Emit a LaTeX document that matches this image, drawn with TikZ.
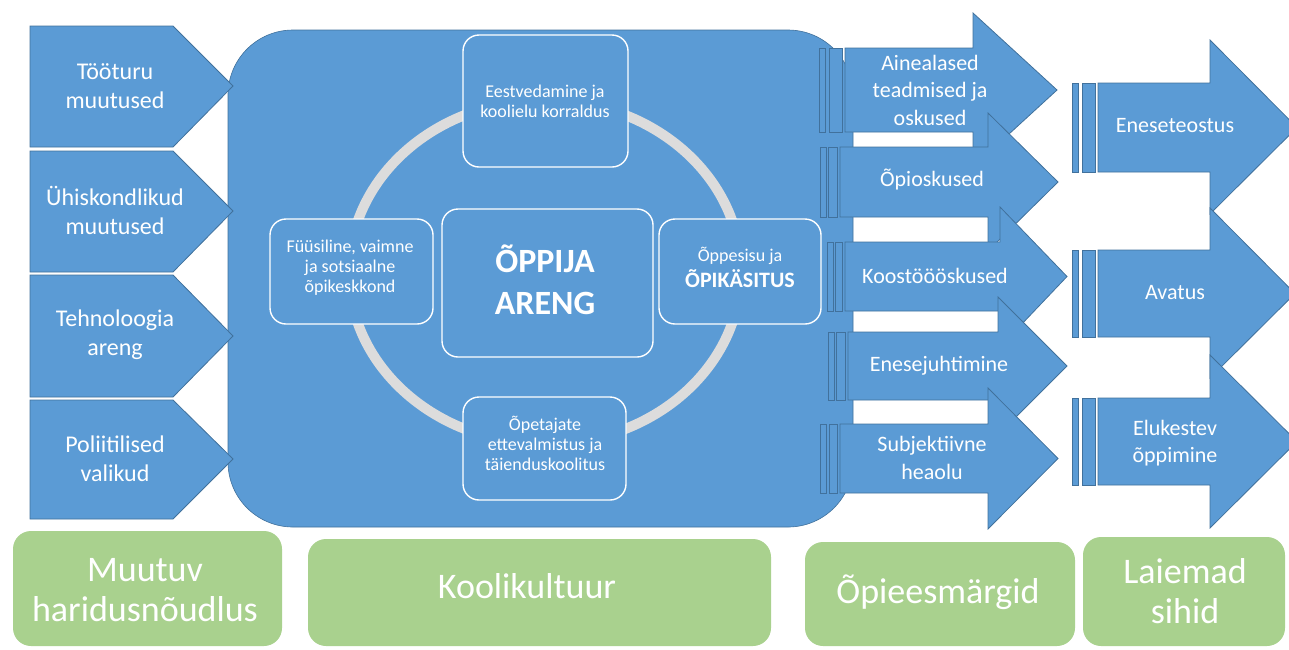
\documentclass[tikz,border=0pt]{standalone}
\usepackage{fontspec}
\setmainfont{Carlito}
\definecolor{blu}{HTML}{5B9BD5}
\definecolor{bluedge}{HTML}{41719C}
\definecolor{grn}{HTML}{A9D18E}
\definecolor{ringgray}{HTML}{DCDCDC}
% #1 stripe1 left, #2 stripe2 left, #3 body left, #4 top, #5 bottom,
% #6 head base x, #7 head top, #8 tip x, #9 head bottom
\newcommand{\strarrow}[9]{%
  \draw[blueshape] (#1,#4) rectangle (#1+6,#5);
  \draw[blueshape] (#2,#4) rectangle (#3-3,#5);
  \draw[blueshape] (#3,#4) -- (#6,#4) -- (#6,#7) -- (#8,{(#4+#5)/2})
     -- (#6,#9) -- (#6,#5) -- (#3,#5) -- cycle;
}
\begin{document}
\begin{tikzpicture}[x=1pt,y=-1pt,
  blueshape/.style={fill=blu, draw=bluedge, line width=0.8pt, line join=miter},
  mainbox/.style={fill=blu, draw=bluedge, line width=0.6pt, rounded corners=65pt, inner sep=0pt},
  ibox/.style={fill=blu, draw=white, line width=1.4pt, rounded corners=16pt, inner sep=0pt},
  gbox/.style={fill=grn, rounded corners=18pt, inner sep=0pt},
  wtext/.style={text=white, align=center, inner sep=0pt},
  lefttxt/.style={wtext, font=\fontsize{24}{29}\selectfont},
  righttxt/.style={wtext, font=\fontsize{22}{27.5}\selectfont},
  smalltxt/.style={wtext, font=\fontsize{18}{20}\selectfont},
  greentxt/.style={wtext, font=\fontsize{36}{40}\selectfont},
  bigtxt/.style={wtext, font=\fontsize{34}{42}\selectfont\bfseries},
]
\useasboundingbox (0,0) rectangle (1289,649);
\clip (0,0) rectangle (1289,649);

% main school-culture box
\node[mainbox, minimum width=625pt, minimum height=497pt] (kool) at (540.5,278.5) {};

% ring
\draw[ringgray, line width=10pt] (545,272) ellipse [x radius=196pt, y radius=172pt];

% inner boxes
\node[ibox, minimum width=165pt, minimum height=132pt] (lead) at (545.5,101) {};
\node[ibox, minimum width=163pt, minimum height=105pt] (env) at (351.5,271.5) {};
\node[ibox, minimum width=211pt, minimum height=148pt] (center) at (547.5,283) {};
\node[ibox, minimum width=162pt, minimum height=105pt] (content) at (740,271.5) {};
\node[ibox, minimum width=163pt, minimum height=103pt] (teach) at (544.5,448.5) {};

\node[smalltxt] (lead-t) at (545,101) {Eestvedamine ja\\koolielu korraldus};
\node[smalltxt] (env-t) at (350,268) {Füüsiline, vaimne\\ja sotsiaalne\\õpikeskkond};
\node[bigtxt] (center-t) at (545,280) {ÕPPIJA\\AREN\kern0ptG};
\node[wtext, font=\fontsize{22}{26}\selectfont] (content-t) at (740,267)
  {{\fontsize{18}{20}\selectfont Õppesisu ja}\\\bfseries ÕPIKÄSITUS};
\node[smalltxt] (teach-t) at (545,443) {Õpetajate\\ettevalmistus ja\\täienduskoolitus};

% left arrows
\draw[blueshape] (30,26) -- (173,26) -- (233,86) -- (173,147) -- (30,147) -- cycle;
\draw[blueshape] (30,151) -- (173,151) -- (233,211) -- (173,272) -- (30,272) -- cycle;
\draw[blueshape] (30,275) -- (173,275) -- (233,336) -- (173,397) -- (30,397) -- cycle;
\draw[blueshape] (30,400) -- (173,400) -- (233,459) -- (173,519) -- (30,519) -- cycle;
\node[lefttxt] (l1) at (115,86) {Tööturu\\muutused};
\node[lefttxt] (l2) at (115,210) {Ühiskondlikud\\muutused};
\node[lefttxt] (l3) at (115,335) {Tehnoloogia\\areng};
\node[lefttxt] (l4) at (115,459) {Poliitilised\\valikud};

% right arrows, column 1
\strarrow{819}{829}{845}{48}{132}{973}{13}{1057}{167}
\strarrow{820}{828}{840}{147}{217}{988}{113}{1058}{251}
\strarrow{827}{835}{845}{242}{311}{1000}{207}{1067}{347}
\strarrow{828}{836}{848}{332}{400}{998}{297}{1067}{435}
\strarrow{820}{829}{840}{424}{493}{988}{388}{1058}{529}
% column 2
\strarrow{1072}{1082}{1098}{83}{172}{1210}{40}{1297}{214}
\strarrow{1072}{1082}{1098}{250}{337}{1210}{208}{1295}{378}
\strarrow{1072}{1082}{1098}{398}{485}{1210}{355}{1297}{528}

\node[righttxt] (r1) at (930,90) {Ainealased\\teadmised ja\\oskused};
\node[righttxt] (r2) at (932,180) {Õpioskused};
\node[righttxt] (r3) at (935,276) {Koostöööskused};
\node[righttxt] (r4) at (939,366) {Enesejuhtimine};
\node[righttxt] (r5) at (932,458) {Subjektiivne\\heaolu};

\node[righttxt] (s1) at (1175,126) {Eneseteostus};
\node[righttxt] (s2) at (1175,293) {Avatus};
\node[righttxt] (s3) at (1175,443) {Elukestev\\õppimine};

% green boxes
\node[gbox, minimum width=269pt, minimum height=115pt] (g1) at (147.5,588.5) {};
\node[gbox, minimum width=463pt, minimum height=107pt] (g2) at (539.5,592.5) {};
\node[gbox, minimum width=270pt, minimum height=104pt] (g3) at (940,594) {};
\node[gbox, minimum width=202pt, minimum height=109pt] (g4) at (1184,591.5) {};
\node[greentxt] (g1-t) at (145,590) {Muutuv\\haridusnõudlus};
\node[greentxt] (g2-t) at (527,586) {Koolikultuur};
\node[greentxt] (g3-t) at (938,592) {Õpieesmärgid};
\node[greentxt] (g4-t) at (1185,591) {Laiemad\\sihid};
\end{tikzpicture}
\end{document}
